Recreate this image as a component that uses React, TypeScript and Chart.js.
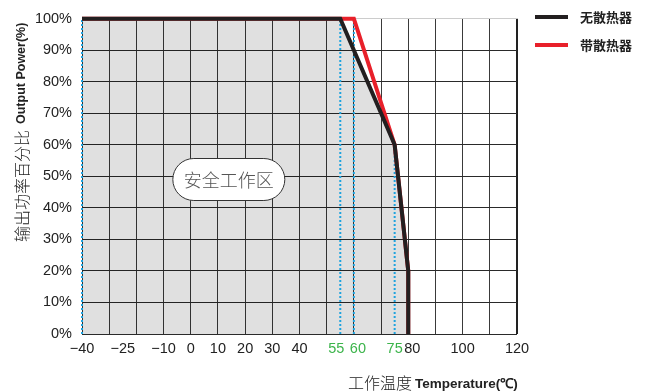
import React, { useEffect, useRef } from 'react';
import { Chart, registerables } from 'chart.js';

Chart.register(...registerables);

// ---- data ----
const gridTemps = [-40, -30, -20, -10, 0, 10, 20, 30, 40, 50, 60, 70, 80, 90, 100, 110, 120];
const labelTemps = [-40, -25, -10, 0, 10, 20, 30, 40, 55, 60, 75, 80, 100, 120];
const greenTemps = [55, 60, 75];
const seriesNames = ['无散热器', '带散热器'];
const noSinkTemp = [-40, 55, 75, 80, 80];
const noSinkPower = [100, 100, 60, 20, 0];
const sinkTemp = [-40, 60, 75, 80, 80];
const sinkPower = [100, 100, 60, 20, 0];
const markerTemps = [-40, 55, 60, 75];
const markerPower = [100, 100, 100, 60];
const safeZoneText = '安全工作区';
const safeZoneTemp = 14;
const safeZonePower = 49;
const yTitleCn = '输出功率百分比';
const yTitleEn = 'Output Power(%)';
const xTitleCn = '工作温度';
const xTitleEn = 'Temperature(℃)';

const CJK = '"Noto Sans CJK SC", sans-serif';
const SANS = '"Liberation Sans", Arial, sans-serif';

// label nudges for crowded ticks (spaces pad the centred text)
const padLeft = [60, 80];
const padRight = [55];

const toPts = (xs: number[], ys: number[]) => xs.map((x, i) => ({ x, y: ys[i] }));

const overlayPlugin = {
  id: 'overlay',
  afterDraw(chart: any) {
    const ctx: CanvasRenderingContext2D = chart.ctx;
    const xs = chart.scales.x;
    const ys = chart.scales.y;
    ctx.save();

    // safe zone pill
    const cx = xs.getPixelForValue(safeZoneTemp);
    const cy = ys.getPixelForValue(safeZonePower);
    const w = 112, h = 42, r = 21;
    ctx.beginPath();
    ctx.moveTo(cx - w / 2 + r, cy - h / 2);
    ctx.lineTo(cx + w / 2 - r, cy - h / 2);
    ctx.arc(cx + w / 2 - r, cy, r, -Math.PI / 2, Math.PI / 2);
    ctx.lineTo(cx - w / 2 + r, cy + h / 2);
    ctx.arc(cx - w / 2 + r, cy, r, Math.PI / 2, Math.PI * 1.5);
    ctx.closePath();
    ctx.fillStyle = '#ffffff';
    ctx.fill();
    ctx.strokeStyle = '#333333';
    ctx.lineWidth = 1;
    ctx.stroke();
    ctx.fillStyle = '#555555';
    ctx.font = `300 18px ${CJK}`;
    ctx.textAlign = 'center';
    ctx.textBaseline = 'middle';
    ctx.fillText(safeZoneText, cx, cy + 1);

    // legend
    const legendItems = chart.data.datasets.filter((d: any) => d.legendItem);
    legendItems.forEach((d: any, i: number) => {
      const y = 17 + i * 28;
      ctx.fillStyle = d.borderColor;
      ctx.fillRect(535, y - 2, 33, 4);
      ctx.fillStyle = '#222222';
      ctx.font = `bold 13px ${CJK}`;
      ctx.textAlign = 'left';
      ctx.textBaseline = 'middle';
      ctx.fillText(d.label, 580, y);
    });

    // y title (rotated)
    ctx.save();
    ctx.translate(22, 242);
    ctx.rotate(-Math.PI / 2);
    ctx.textAlign = 'left';
    ctx.textBaseline = 'middle';
    ctx.fillStyle = '#222222';
    ctx.font = `300 16px ${CJK}`;
    ctx.fillText(yTitleCn, 0, 0);
    const cnW = ctx.measureText(yTitleCn).width;
    ctx.font = `bold 12.5px ${SANS}`;
    ctx.fillText(yTitleEn, cnW + 6, 0);
    ctx.restore();

    // x title
    ctx.textAlign = 'left';
    ctx.textBaseline = 'middle';
    ctx.fillStyle = '#222222';
    ctx.font = `300 16px ${CJK}`;
    ctx.fillText(xTitleCn, 348, 383);
    const cnXW = ctx.measureText(xTitleCn).width;
    ctx.font = `bold 13.5px ${SANS}`;
    ctx.fillText(xTitleEn, 348 + cnXW + 3, 384);

    ctx.restore();
  },
};

export default function App() {
  const ref = useRef<HTMLCanvasElement | null>(null);

  useEffect(() => {
    if (!ref.current) return;
    const allTicks = Array.from(new Set([...gridTemps, ...labelTemps])).sort((a, b) => a - b);

    const markerSets = markerTemps.map((t, i) => ({
      type: 'line' as const,
      data: [{ x: t, y: 0 }, { x: t, y: markerPower[i] }],
      borderColor: '#1fa3de',
      borderWidth: 2,
      borderDash: [2, 2],
      pointRadius: 0,
      fill: false,
      clip: false,
      order: 2,
    }));

    const chart = new Chart(ref.current, {
      type: 'line',
      data: {
        datasets: [
          {
            label: seriesNames[0],
            legendItem: true,
            data: toPts(noSinkTemp, noSinkPower),
            borderColor: '#231f20',
            borderWidth: 4,
            pointRadius: 0,
            fill: false,
            clip: false,
            order: 0,
          } as any,
          {
            label: seriesNames[1],
            legendItem: true,
            data: toPts(sinkTemp, sinkPower),
            borderColor: '#e8202a',
            borderWidth: 4,
            pointRadius: 0,
            fill: false,
            clip: false,
            order: 1,
          } as any,
          ...markerSets,
          {
            label: 'area',
            data: toPts(noSinkTemp, noSinkPower),
            borderWidth: 0,
            borderColor: 'rgba(0,0,0,0)',
            backgroundColor: 'rgba(0,0,0,0.12)',
            pointRadius: 0,
            fill: 'origin',
            order: 3,
          },
        ],
      },
      options: {
        animation: false,
        responsive: true,
        maintainAspectRatio: false,
        layout: { padding: { left: 0, right: 128, top: 15, bottom: 0 } },
        plugins: {
          legend: { display: false },
          tooltip: { enabled: false },
        },
        scales: {
          x: {
            type: 'linear',
            min: -40,
            max: 120,
            afterBuildTicks: (scale: any) => {
              scale.ticks = allTicks.map((v) => ({ value: v }));
            },
            afterFit: (scale: any) => {
              scale.height = 58;
            },
            grid: {
              drawTicks: false,
              color: (c: any) => (c.tick && gridTemps.includes(c.tick.value) ? (c.tick.value === 120 ? '#222222' : '#3a3a3a') : 'rgba(0,0,0,0)'),
              lineWidth: (c: any) => (c.tick && c.tick.value === 120 ? 2 : 1),
            },
            border: { display: false },
            ticks: {
              autoSkip: false,
              maxRotation: 0,
              minRotation: 0,
              padding: 6,
              font: { family: SANS, size: 14.5 },
              color: (c: any) => (c.tick && greenTemps.includes(c.tick.value) ? '#3cb44b' : '#222222'),
              callback: (v: any) => {
                const n = Number(v);
                if (!labelTemps.includes(n)) return '';
                const s = String(n).replace('-', '−');
                if (padLeft.includes(n)) return '  ' + s;
                if (padRight.includes(n)) return s + '  ';
                return s;
              },
            },
          },
          y: {
            type: 'linear',
            min: 0,
            max: 100,
            afterFit: (scale: any) => {
              scale.width = 82;
            },
            grid: {
              drawTicks: false,
              color: (c: any) => (c.tick && c.tick.value === 100 ? '#cccccc' : '#2a2a2a'),
              lineWidth: 1,
            },
            border: { display: false },
            ticks: {
              stepSize: 10,
              padding: 10,
              font: { family: SANS, size: 14.5 },
              color: '#222222',
              callback: (v: any) => `${v}%`,
            },
          },
        },
      } as any,
      plugins: [overlayPlugin],
    });

    return () => chart.destroy();
  }, []);

  return (
    <div style={{ position: 'fixed', left: 0, top: 0, width: 645, height: 392, background: '#ffffff' }}>
      <canvas ref={ref} />
    </div>
  );
}
